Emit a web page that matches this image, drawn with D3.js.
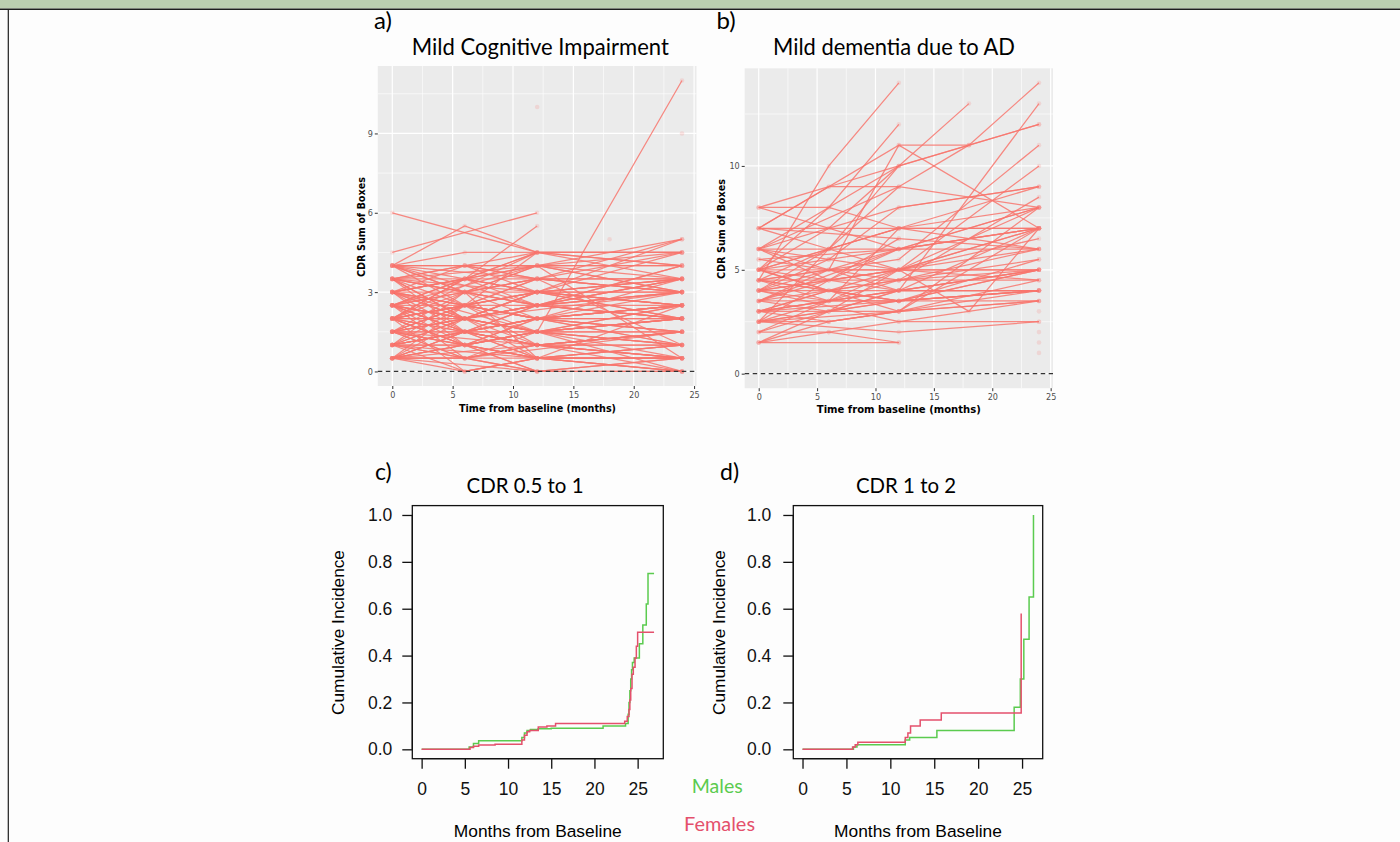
<!DOCTYPE html>
<html>
<head>
<meta charset="utf-8">
<script src="https://cdnjs.cloudflare.com/ajax/libs/d3/7.8.5/d3.min.js"></script>
<style>
html,body{margin:0;padding:0;background:#fdfdfd;}
svg{display:block;}
</style>
</head>
<body>
<svg id="fig" width="1400" height="842"></svg>
<script>
// ---------------- DATA ----------------
const timeTicks = [0, 5, 10, 15, 20, 25];
const mciYTicks = [0, 3, 6, 9];
const adYTicks = [0, 5, 10];
const ciTicks = [0, 0.2, 0.4, 0.6, 0.8, 1.0];
const monthTicks = [0, 5, 10, 15, 20, 25];

// Panel a: individual trajectories, [month, CDR-SB]
const mciSubjects = [
 [[0,6],[12,4.5],[24,3.5]],
 [[0,4.5],[12,6]],
 [[0,4],[6,5.5],[12,4.5],[24,4.5]],
 [[0,2],[6,3.5],[12,5.5]],
 [[0,1.5],[12,1.5],[24,11]],
 [[0,4],[24,4]],
 [[0,4],[6,4.5],[24,4.5]],
 [[0,3.5],[6,3.5],[12,3],[24,5]],
 [[0,3],[6,2.5],[12,3.5],[24,3.5]],
 [[0,2.5],[6,2],[12,2.5],[24,3]],
 [[0,2],[6,1.5],[12,2],[24,2.5]],
 [[0,1.5],[6,1],[12,1.5],[24,2]],
 [[0,1],[6,0.5],[12,1],[24,1.5]],
 [[0,0.5],[6,0],[12,0.5],[24,0.5]],
 [[0,0.5],[6,1],[12,0.5],[24,0]],
 [[0,1],[6,1.5],[12,2],[24,1]],
 [[0,4],[6,3],[12,4],[24,4.5]],
 [[0,3.5],[6,4],[12,3.5],[24,3]],
 [[0,3],[6,3.5],[12,4.5],[24,4]],
 [[0,2.5],[6,3],[12,2],[24,2.5]],
 [[0,2],[6,2.5],[12,3],[24,3.5]],
 [[0,1.5],[6,2],[12,2.5],[24,2]],
 [[0,1],[6,2],[12,1.5],[24,0.5]],
 [[0,0.5],[6,1.5],[12,1],[24,1]],
 [[0,3.5],[6,2],[12,1.5],[24,1]],
 [[0,3],[6,1],[12,0.5],[24,0.5]],
 [[0,2.5],[6,0.5],[12,1],[24,1.5]],
 [[0,2],[6,0],[12,0.5],[24,0]],
 [[0,1.5],[6,3],[12,3.5],[24,3.5]],
 [[0,1],[6,2.5],[12,3],[24,2.5]],
 [[0,0.5],[6,2],[12,2.5],[24,3]],
 [[0,4],[6,2.5],[12,2],[24,1.5]],
 [[0,3.5],[6,1.5],[12,2],[24,2.5]],
 [[0,3],[6,2],[12,1],[24,0.5]],
 [[0,2.5],[6,1.5],[12,0.5],[24,1]],
 [[0,2],[6,1],[12,1.5],[24,1.5]],
 [[0,1.5],[6,0.5],[12,0],[24,0.5]],
 [[0,1],[6,1],[12,0.5],[24,0]],
 [[0,0.5],[6,0.5],[12,1.5],[24,2]],
 [[0,2],[6,3],[12,2.5],[24,4]],
 [[0,2.5],[6,3.5],[12,3],[24,2]],
 [[0,3],[6,4],[12,3.5],[24,4.5]],
 [[0,3.5],[6,3],[12,2.5],[24,3.5]],
 [[0,1.5],[6,2.5],[12,2],[24,3]],
 [[0,1],[6,1.5],[12,2.5],[24,2]],
 [[0,0.5],[6,1],[12,2],[24,2.5]],
 [[0,2],[12,3],[24,3]],
 [[0,2.5],[12,1.5],[24,2]],
 [[0,3],[12,2],[24,2.5]],
 [[0,1.5],[12,2.5],[24,3.5]],
 [[0,1],[12,0.5],[24,1]],
 [[0,0.5],[12,1],[24,0.5]],
 [[0,4],[12,3.5],[24,3]],
 [[0,3.5],[12,4],[24,5]],
 [[0,2],[6,2],[12,1.5],[24,1]],
 [[0,2.5],[6,2.5],[12,2.5],[24,2.5]],
 [[0,1.5],[6,1.5],[12,1],[24,1.5]],
 [[0,1],[6,0.5],[12,0],[24,0]],
 [[0,3],[6,3],[12,3],[24,3]],
 [[0,2],[6,1],[12,2],[24,2]],
 [[0,0.5],[6,0.5],[12,0.5],[24,1]],
 [[0,1],[6,2],[12,3],[24,3.5]],
 [[0,1.5],[6,2],[12,1.5],[24,1]],
 [[0,2.5],[6,2],[12,3],[24,2.5]],
 [[0,3],[6,2.5],[12,2],[24,1.5]],
 [[0,3.5],[6,3],[12,4],[24,4]],
 [[0,2],[6,2.5],[12,2],[24,1.5]],
 [[0,1],[6,1],[12,1.5],[24,2.5]],
 [[0,0.5],[6,1],[12,1.5],[24,1.5]],
 [[0,1.5],[6,1],[12,0.5],[24,0.5]],
 [[0,2.5],[6,3],[12,3.5],[24,3]],
 [[0,3],[6,3.5],[12,2.5],[24,2]],
 [[0,2],[6,2],[12,2.5],[24,3]],
 [[0,1],[6,1.5],[12,1],[24,0.5]],
 [[0,4],[6,3.5],[12,3],[24,3.5]],
 [[0,3.5],[12,2.5],[24,2]],
 [[0,0.5],[6,1.5],[12,2],[24,1]],
 [[0,2.5],[6,1.5],[12,2],[24,3.5]],
 [[0,1.5],[6,2.5],[12,3],[24,2]],
 [[0,2],[6,3.5],[12,4],[24,3]],
 [[0,3],[6,1.5],[12,1],[24,1.5]],
 [[0,1],[6,0],[12,0.5],[24,0.5]],
 [[6,4],[12,3],[24,2.5]],
 [[0,2],[12,4.5],[24,4.5]],
 [[0,3.5],[6,2.5],[12,1.5],[24,2]],
 [[0,4],[12,2.5],[24,3.5]],
 [[0,0.5],[12,0],[24,0]],
 [[0,1.5],[6,0.5],[12,1],[24,0]],
 [[0,2.5],[12,0.5],[24,0.5]],
 [[0,3],[6,2],[12,3],[24,2.5]],
 [[0,2],[6,1.5],[12,1],[24,0.5]],
 [[0,1],[6,1.5],[12,1.5],[24,2]],
 [[0,2.5],[6,3.5],[12,4.5],[24,4]],
 [[0,4],[6,4],[12,4],[24,3.5]],
 [[0,3],[6,3.5],[12,3.5],[24,5]],
 [[0,2.5],[6,2],[24,3]],
 [[0,1.5],[6,1],[24,2.5]],
 [[0,0.5],[6,0.5],[24,1.5]],
 [[0,2],[12,0],[24,0.5]],
 [[0,3.5],[12,3],[24,4.5]],
 [[0,1],[12,2],[24,2]],
 [[0,1.5],[12,1],[24,1.5]],
 [[0,3],[12,1.5],[24,0]],
 [[0,2],[6,2.5],[12,1],[24,1]],
 [[0,4],[6,3],[12,0.5]],
 [[0,3.5],[6,4],[12,4.5]],
 [[0,1],[6,3],[12,3.5]],
 [[0,0.5],[6,2.5],[12,4.5]],
 [[0,2.5],[6,1],[12,0]],
 [[0,3],[12,4],[24,3]],
 [[0,1.5],[12,3.5],[24,1]],
 [[0,0.5],[12,2.5],[24,4]],
 [[0,3.5],[12,0.5],[24,2.5]],
 [[0,2.5],[12,4],[24,0.5]],
 [[12,10]],
 [[18,5]],
 [[24,9]]
];

// Panel b: individual trajectories, [month, CDR-SB]
const adSubjects = [
 [[0,4.5],[6,10],[12,14]],
 [[0,5],[6,8],[12,12]],
 [[0,3.5],[6,5],[12,11],[24,7]],
 [[0,6],[12,10],[18,13]],
 [[0,8],[6,9],[12,9]],
 [[0,8],[6,8],[12,7]],
 [[0,7],[6,9],[12,10]],
 [[0,2.5],[6,6],[12,10],[24,12]],
 [[0,4],[6,6],[12,9],[18,11],[24,14]],
 [[0,3],[12,5],[18,3],[24,7]],
 [[0,2.5],[12,2],[24,2.5]],
 [[0,1.5],[12,1.5]],
 [[0,2],[6,2],[12,1.5]],
 [[0,1.5],[6,2.5],[12,3],[24,4]],
 [[0,5],[12,5],[24,5]],
 [[0,6],[6,6],[12,6],[24,6]],
 [[0,7],[6,7],[12,7],[24,7]],
 [[0,4.5],[12,4.5],[24,4.5]],
 [[0,4],[12,4],[24,4]],
 [[0,3.5],[12,3.5],[24,3.5]],
 [[0,3],[12,3.5],[24,5]],
 [[0,5.5],[12,6],[24,8]],
 [[0,5],[12,7],[24,9]],
 [[0,4.5],[12,5.5],[24,11]],
 [[0,3],[12,4],[24,13]],
 [[0,2.5],[12,3],[24,8]],
 [[0,4],[12,5],[24,10]],
 [[0,3.5],[12,4.5],[24,8.5]],
 [[0,6],[12,8],[24,9]],
 [[0,7],[12,6.5],[24,6]],
 [[0,5],[6,4],[12,3.5],[24,5.5]],
 [[0,4.5],[6,3.5],[12,4],[24,4]],
 [[0,3],[6,3],[12,5],[24,6.5]],
 [[0,2.5],[6,4.5],[12,6]],
 [[0,2],[6,3.5],[12,7],[24,7]],
 [[0,4],[6,5],[12,4.5],[24,5]],
 [[0,3.5],[6,3],[12,3],[24,3.5]],
 [[0,5.5],[6,5],[12,5],[24,7]],
 [[0,6],[6,4.5],[12,5],[24,4.5]],
 [[0,4.5],[6,4],[12,3.5],[24,4]],
 [[0,3],[6,2.5],[12,3],[24,4.5]],
 [[0,2.5],[6,3],[12,4],[24,5]],
 [[0,5],[6,6],[12,7],[24,8]],
 [[0,4],[6,5.5],[12,5],[24,6]],
 [[0,4.5],[6,5],[12,6],[24,7]],
 [[0,3],[6,4],[12,4.5],[24,5.5]],
 [[0,8],[12,6],[24,7]],
 [[0,7],[6,6],[12,5],[24,5]],
 [[0,6],[12,4],[24,4]],
 [[0,5],[12,3],[24,3.5]],
 [[0,4],[12,2.5],[24,2.5]],
 [[0,2],[12,4],[24,5]],
 [[0,1.5],[6,3],[12,3.5],[24,4]],
 [[0,3.5],[6,4.5],[12,6.5]],
 [[0,5],[6,5.5],[12,8],[24,9]],
 [[0,4.5],[12,3.5],[24,4]],
 [[0,2.5],[6,3.5],[12,4.5],[24,6]],
 [[0,3],[12,4],[24,7]],
 [[0,4],[12,5],[24,7]],
 [[0,3.5],[12,6],[24,8]],
 [[0,2.5],[6,2.5],[12,3],[24,7]],
 [[0,6],[12,9],[24,8]],
 [[0,4.5],[6,6],[12,7],[24,6]],
 [[0,5],[6,7],[12,10],[18,11],[24,12]],
 [[0,7],[12,11],[18,11]],
 [[0,3],[6,3.5],[12,5],[24,8]],
 [[0,5],[6,4.5],[12,4],[24,5]],
 [[0,4],[6,3.5],[12,3.5],[24,4]],
 [[0,2.5],[12,3.5],[24,5]],
 [[0,6],[6,5.5],[12,6],[24,7]],
 [[0,1.5],[6,2],[12,2.5],[24,3.5]],
 [[24,3]],
 [[24,2]],
 [[24,1.5]],
 [[24,1]]
];

// Panels c, d: cumulative incidence step curves
const cMaleT   = [0, 5.5, 6.0, 6.6, 11.6, 11.9, 12.2, 12.6, 13.5, 15.0, 21.0, 23.6, 23.9, 24.0, 24.1, 24.2, 24.3, 24.4, 24.6, 25.2, 25.6, 26.0, 26.2, 26.9];
const cMaleY   = [0, 0.01, 0.025, 0.037, 0.05, 0.07, 0.08, 0.085, 0.088, 0.09, 0.1, 0.11, 0.15, 0.2, 0.25, 0.3, 0.34, 0.37, 0.39, 0.45, 0.53, 0.62, 0.75, 0.75];
const cFemaleT = [0, 5.6, 6.0, 6.6, 8.5, 11.6, 11.9, 12.2, 12.5, 13.5, 14.5, 15.5, 23.5, 23.8, 24.0, 24.1, 24.2, 24.35, 24.5, 24.7, 24.85, 25.0, 26.9];
const cFemaleY = [0, 0.008, 0.013, 0.018, 0.022, 0.04, 0.06, 0.075, 0.08, 0.095, 0.1, 0.11, 0.12, 0.14, 0.17, 0.21, 0.26, 0.32, 0.35, 0.39, 0.44, 0.5, 0.5];
const dMaleT   = [0, 5.8, 6.2, 11.7, 12.2, 15.3, 24.1, 24.8, 25.2, 25.8, 26.3];
const dMaleY   = [0, 0.01, 0.02, 0.04, 0.05, 0.08, 0.18, 0.3, 0.47, 0.65, 1.0];
const dFemaleT = [0, 5.7, 6.0, 6.3, 11.7, 12.0, 12.3, 13.4, 15.8, 24.9];
const dFemaleY = [0, 0.01, 0.02, 0.03, 0.05, 0.07, 0.1, 0.125, 0.155, 0.58];

// ---------------- DRAW ----------------
const svg = d3.select('#fig');
const salmon = '#F8766D';
const maleCol = '#5BCB4F';
const femaleCol = '#E4506C';
const titleFont = 'Lato, "Open Sans", sans-serif';

// figure frame
svg.append('rect').attr('x',0).attr('y',0).attr('width',1400).attr('height',8.5).attr('fill','#BBCEB0');
svg.append('line').attr('x1',0).attr('x2',1400).attr('y1',9.3).attr('y2',9.3).attr('stroke','#1e1e1e').attr('stroke-width',1.6);
svg.append('line').attr('x1',8.3).attr('x2',8.3).attr('y1',9).attr('y2',842).attr('stroke','#1e1e1e').attr('stroke-width',1.2);

function fit(sel, target){
  const w = sel.node().getComputedTextLength();
  const fs = parseFloat(sel.attr('font-size'));
  sel.attr('font-size', (fs*target/w).toFixed(2));
  return sel;
}
function addText(x, y, txt, opts){
  const t = svg.append('text').attr('x',x).attr('y',y).text(txt)
    .attr('font-family', opts.family || titleFont)
    .attr('font-size', opts.size || 20)
    .attr('font-weight', opts.weight || 'normal')
    .attr('fill', opts.fill || '#000')
    .attr('text-anchor', opts.anchor || 'start');
  if (opts.rotate) t.attr('transform', `rotate(-90,${x},${y})`);
  if (opts.width) fit(t, opts.width);
  if (opts.length) t.attr('textLength', opts.length).attr('lengthAdjust','spacingAndGlyphs');
  return t;
}

function ggPanel(cfg){
  const x = d3.scaleLinear().domain(cfg.xdom).range([cfg.left, cfg.right]);
  const y = d3.scaleLinear().domain(cfg.ydom).range([cfg.bottom, cfg.top]);
  const g = svg.append('g');
  g.append('rect').attr('x',cfg.left).attr('y',cfg.top)
    .attr('width',cfg.right-cfg.left).attr('height',cfg.bottom-cfg.top).attr('fill','#EBEBEB');
  const xMinor = d3.pairs(cfg.xTicks).map(p=>(p[0]+p[1])/2);
  const yMinor = d3.pairs(cfg.yTicks).map(p=>(p[0]+p[1])/2);
  const step = cfg.yTicks[1]-cfg.yTicks[0];
  const lastY = cfg.yTicks[cfg.yTicks.length-1];
  if (lastY + step/2 < cfg.ydom[1]) yMinor.push(lastY + step/2);
  g.selectAll('.vminor').data(xMinor).join('line')
    .attr('x1',d=>x(d)).attr('x2',d=>x(d)).attr('y1',cfg.top).attr('y2',cfg.bottom)
    .attr('stroke','#fff').attr('stroke-width',0.6);
  g.selectAll('.hminor').data(yMinor).join('line')
    .attr('y1',d=>y(d)).attr('y2',d=>y(d)).attr('x1',cfg.left).attr('x2',cfg.right)
    .attr('stroke','#fff').attr('stroke-width',0.6);
  g.selectAll('.vmajor').data(cfg.xTicks).join('line')
    .attr('x1',d=>x(d)).attr('x2',d=>x(d)).attr('y1',cfg.top).attr('y2',cfg.bottom)
    .attr('stroke','#fff').attr('stroke-width',1.2);
  g.selectAll('.hmajor').data(cfg.yTicks).join('line')
    .attr('y1',d=>y(d)).attr('y2',d=>y(d)).attr('x1',cfg.left).attr('x2',cfg.right)
    .attr('stroke','#fff').attr('stroke-width',1.2);

  const line = d3.line().x(d=>x(d[0])).y(d=>y(d[1]));
  g.selectAll('.subj').data(cfg.data.filter(s=>s.length>1)).join('path')
    .attr('d', line).attr('fill','none').attr('stroke',salmon)
    .attr('stroke-width',1.25).attr('stroke-opacity',0.85);
  const pts = cfg.data.flat();
  g.selectAll('.pt').data(pts).join('circle')
    .attr('cx',d=>x(d[0])).attr('cy',d=>y(d[1])).attr('r',2.3)
    .attr('fill',salmon).attr('fill-opacity',0.18);

  g.append('line').attr('x1',cfg.left).attr('x2',cfg.right).attr('y1',y(0)).attr('y2',y(0))
    .attr('stroke','#333').attr('stroke-width',1.2).attr('stroke-dasharray','4.5,3.5');

  // axes
  const ax = d3.axisBottom(x).tickValues(cfg.xTicks).tickSize(3).tickPadding(2).tickFormat(d3.format('d'));
  const xa = g.append('g').attr('transform',`translate(0,${cfg.bottom})`).call(ax);
  const ay = d3.axisLeft(y).tickValues(cfg.yTicks).tickSize(3).tickPadding(2).tickFormat(d3.format('d'));
  const ya = g.append('g').attr('transform',`translate(${cfg.left},0)`).call(ay);
  [xa, ya].forEach(a=>{
    a.select('.domain').remove();
    a.selectAll('.tick line').attr('stroke','#333').attr('stroke-width',1);
    a.selectAll('.tick text').attr('fill','#4D4D4D').attr('font-size',9.5)
      .attr('font-family','"DejaVu Sans", sans-serif').attr('textLength', null);
  });
  xa.selectAll('.tick text').each(function(){
    const t = d3.select(this); const w = this.getComputedTextLength();
    t.attr('textLength', w*0.85).attr('lengthAdjust','spacingAndGlyphs');
  });
  ya.selectAll('.tick text').each(function(){
    const t = d3.select(this); const w = this.getComputedTextLength();
    t.attr('textLength', w*0.85).attr('lengthAdjust','spacingAndGlyphs');
  });
  addText(cfg.xLabX, cfg.xLabY, 'Time from baseline (months)',
    {family:'"DejaVu Sans", sans-serif', weight:'bold', size:11, anchor:'middle', length:cfg.xLabW});
  addText(cfg.yLabX, cfg.yLabY, 'CDR Sum of Boxes',
    {family:'"DejaVu Sans", sans-serif', weight:'bold', size:11, anchor:'middle', length:100, rotate:true});
}

ggPanel({left:377.8, right:696.5, top:66, bottom:386, xdom:[-1.2,25.2], ydom:[-0.55,11.55],
  xTicks:timeTicks, yTicks:mciYTicks, data:mciSubjects,
  xLabX:537.5, xLabY:411.5, xLabW:157, yLabX:364.5, yLabY:227});
ggPanel({left:744.7, right:1053, top:68.3, bottom:388.2, xdom:[-1.2,25.2], ydom:[-0.7,14.7],
  xTicks:timeTicks, yTicks:adYTicks, data:adSubjects,
  xLabX:898.8, xLabY:412.5, xLabW:164, yLabX:724.5, yLabY:229});

addText(374, 29, 'a)', {size:24});
addText(540.3, 55, 'Mild Cognitive Impairment', {size:22.5, anchor:'middle', length:257});
addText(716.5, 29, 'b)', {size:24});
addText(894, 55, 'Mild dementia due to AD', {size:22.5, anchor:'middle', length:242});

function basePanel(cfg){
  const x = d3.scaleLinear().domain(cfg.xdom).range([cfg.left, cfg.right]);
  const y = d3.scaleLinear().domain([-0.04,1.04]).range([758.7, 505.6]);
  const g = svg.append('g');
  const step = d3.line().curve(d3.curveStepAfter).x(d=>x(d[0])).y(d=>y(d[1]));
  const m = d3.zip(cfg.mT, cfg.mY), f = d3.zip(cfg.fT, cfg.fY);
  g.append('path').attr('d', step(m)).attr('fill','none').attr('stroke',maleCol).attr('stroke-width',1.5);
  g.append('path').attr('d', step(f)).attr('fill','none').attr('stroke',femaleCol).attr('stroke-width',1.5);
  g.append('rect').attr('x',cfg.left).attr('y',505.6).attr('width',cfg.right-cfg.left).attr('height',758.7-505.6)
    .attr('fill','none').attr('stroke','#111').attr('stroke-width',1.3);
  const font = '"Liberation Sans", Arial, sans-serif';
  const ax = d3.axisBottom(x).tickValues(monthTicks).tickSize(10).tickPadding(14).tickFormat(d3.format('d'));
  const xa = g.append('g').attr('transform','translate(0,758.7)').call(ax);
  const ay = d3.axisLeft(y).tickValues(ciTicks).tickSize(10).tickPadding(cfg.yPad).tickFormat(d3.format('.1f'));
  const ya = g.append('g').attr('transform',`translate(${cfg.left},0)`).call(ay);
  [xa, ya].forEach(a=>{
    a.select('.domain').attr('stroke','#111').attr('stroke-width',1.3);
    a.selectAll('.tick line').attr('stroke','#111').attr('stroke-width',1.3);
    a.selectAll('.tick text').attr('fill','#111').attr('font-size',17.5).attr('font-family',font);
  });
  ya.select('.domain').attr('d', `M0,${y(0)}V${y(1)}`);
  xa.select('.domain').attr('d', `M${x(0)},0H${x(25)}`);
  addText(cfg.yLabX, 632.5, 'Cumulative Incidence', {family:font, size:17.5, anchor:'middle', rotate:true, width:165});
  addText((cfg.left+cfg.right)/2 + cfg.xLabOff, 836.5, 'Months from Baseline', {family:font, size:17.5, anchor:'middle', width:168});
}

basePanel({left:412.3, right:663.3, xdom:[-1.08,27.97], mT:cMaleT, mY:cMaleY, fT:cFemaleT, fY:cFemaleY,
  yPad:10, yLabX:344, xLabOff:0});
basePanel({left:793.3, right:1042.7, xdom:[-1.05,27.35], mT:dMaleT, mY:dMaleY, fT:dFemaleT, fY:dFemaleY,
  yPad:12, yLabX:725, xLabOff:0});

addText(375, 480, 'c)', {size:23});
addText(525, 493, 'CDR 0.5 to 1', {size:21, anchor:'middle', length:117});
addText(720, 480, 'd)', {size:23});
addText(906, 493, 'CDR 1 to 2', {size:21, anchor:'middle', length:100});
addText(691.7, 793, 'Males', {size:18.5, fill:maleCol, length:51});
addText(684, 831, 'Females', {size:18.5, fill:femaleCol, length:71});
</script>
</body>
</html>
